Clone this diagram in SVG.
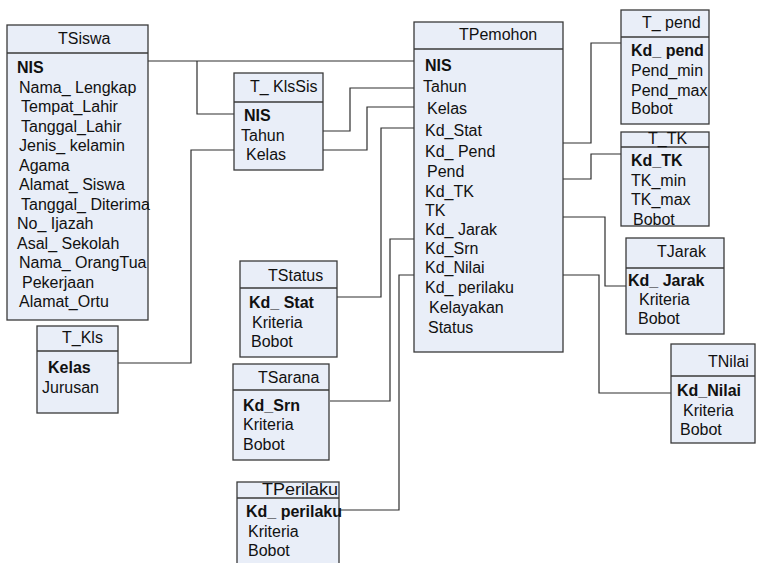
<svg xmlns="http://www.w3.org/2000/svg" width="758" height="563" viewBox="0 0 758 563">
<style>
.box{fill:#e9eef8;stroke:#3a3a3a;stroke-width:1.3}
.sep{stroke:#3a3a3a;stroke-width:1.3}
.t{font-family:"Liberation Sans",Arial,sans-serif;font-size:16px;fill:#111}
.b{font-weight:bold}
.c{fill:none;stroke:#2e2e2e;stroke-width:1.2}
</style>
<rect width="758" height="563" fill="#ffffff"/>
<g id="connectors">
<path class="c" d="M148,61 H414"/>
<path class="c" d="M197,61 V114 H234"/>
<path class="c" d="M323,131 H350 V88 H414"/>
<path class="c" d="M323,150 H367 V107 H414"/>
<path class="c" d="M414,128 H381 V297 H337"/>
<path class="c" d="M118,363 H191 V150 H234"/>
<path class="c" d="M414,239 H390 V401 H330"/>
<path class="c" d="M414,275 H399 V510 H339"/>
<path class="c" d="M563,143 H591 V43 H621"/>
<path class="c" d="M563,179 H591 V154 H621"/>
<path class="c" d="M563,217 H605 V286 H626"/>
<path class="c" d="M563,275 H599 V393 H671"/>
</g>
<g id="TSiswa">
<rect class="box" x="7" y="25" width="141" height="295"/>
<line class="sep" x1="7" y1="53" x2="148" y2="53"/>
<text class="t" x="58" y="44">TSiswa</text>
<text class="t b" x="17" y="73">NIS</text>
<text class="t" x="19" y="92.5">Nama_ Lengkap</text>
<text class="t" x="21" y="112">Tempat_Lahir</text>
<text class="t" x="21" y="131.5">Tanggal_Lahir</text>
<text class="t" x="19" y="151">Jenis_ kelamin</text>
<text class="t" x="19" y="170.5">Agama</text>
<text class="t" x="19" y="190">Alamat_ Siswa</text>
<text class="t" x="21" y="209.5">Tanggal_ Diterima</text>
<text class="t" x="17" y="229">No_ Ijazah</text>
<text class="t" x="17" y="248.5">Asal_ Sekolah</text>
<text class="t" x="19" y="268">Nama_ OrangTua</text>
<text class="t" x="22" y="287.5">Pekerjaan</text>
<text class="t" x="19" y="307">Alamat_Ortu</text>
</g>
<g id="T_KlsSis">
<rect class="box" x="234" y="73" width="89" height="97"/>
<line class="sep" x1="234" y1="102" x2="323" y2="102"/>
<text class="t" x="250" y="92">T_ KlsSis</text>
<text class="t b" x="244" y="121">NIS</text>
<text class="t" x="241" y="141">Tahun</text>
<text class="t" x="246" y="160">Kelas</text>
</g>
<g id="TPemohon">
<rect class="box" x="414" y="22" width="149" height="330"/>
<line class="sep" x1="414" y1="49" x2="563" y2="49"/>
<text class="t" x="459" y="40">TPemohon</text>
<text class="t b" x="425" y="71">NIS</text>
<text class="t" x="423" y="91.5">Tahun</text>
<text class="t" x="427" y="114">Kelas</text>
<text class="t" x="425" y="136">Kd_Stat</text>
<text class="t" x="425" y="156.5">Kd_ Pend</text>
<text class="t" x="427" y="176.5">Pend</text>
<text class="t" x="425" y="196.5">Kd_TK</text>
<text class="t" x="425" y="215.5">TK</text>
<text class="t" x="425" y="235">Kd_ Jarak</text>
<text class="t" x="425" y="254">Kd_Srn</text>
<text class="t" x="425" y="273">Kd_Nilai</text>
<text class="t" x="425" y="293">Kd_ perilaku</text>
<text class="t" x="429" y="313">Kelayakan</text>
<text class="t" x="428" y="333">Status</text>
</g>
<g id="T_pend">
<rect class="box" x="621" y="10" width="88" height="114"/>
<line class="sep" x1="621" y1="37" x2="709" y2="37"/>
<text class="t" x="642" y="28">T_ pend</text>
<text class="t b" x="631" y="56">Kd_ pend</text>
<text class="t" x="631" y="76">Pend_min</text>
<text class="t" x="631" y="95.5">Pend_max</text>
<text class="t" x="631" y="114">Bobot</text>
</g>
<g id="T_TK">
<rect class="box" x="621" y="132" width="88" height="94"/>
<line class="sep" x1="621" y1="147" x2="709" y2="147"/>
<text class="t" x="648" y="144">T_TK</text>
<text class="t b" x="631" y="166">Kd_TK</text>
<text class="t" x="631" y="185.5">TK_min</text>
<text class="t" x="631" y="205">TK_max</text>
<text class="t" x="633" y="224.5">Bobot</text>
</g>
<g id="TJarak">
<rect class="box" x="626" y="238" width="98" height="96"/>
<line class="sep" x1="626" y1="268" x2="724" y2="268"/>
<text class="t" x="657" y="257">TJarak</text>
<text class="t b" x="628" y="286">Kd_ Jarak</text>
<text class="t" x="639" y="305">Kriteria</text>
<text class="t" x="638" y="324">Bobot</text>
</g>
<g id="TNilai">
<rect class="box" x="671" y="344" width="84" height="99"/>
<line class="sep" x1="671" y1="376" x2="755" y2="376"/>
<text class="t" x="708" y="367">TNilai</text>
<text class="t b" x="677" y="396">Kd_Nilai</text>
<text class="t" x="683" y="416">Kriteria</text>
<text class="t" x="680" y="435">Bobot</text>
</g>
<g id="T_Kls">
<rect class="box" x="37" y="326" width="81" height="87"/>
<line class="sep" x1="37" y1="351" x2="118" y2="351"/>
<text class="t" x="62" y="343">T_Kls</text>
<text class="t b" x="48" y="373">Kelas</text>
<text class="t" x="42" y="393">Jurusan</text>
</g>
<g id="TStatus">
<rect class="box" x="240" y="261" width="97" height="96"/>
<line class="sep" x1="240" y1="288" x2="337" y2="288"/>
<text class="t" x="268" y="281">TStatus</text>
<text class="t b" x="249" y="308">Kd_ Stat</text>
<text class="t" x="252" y="328">Kriteria</text>
<text class="t" x="251" y="347">Bobot</text>
</g>
<g id="TSarana">
<rect class="box" x="233" y="364" width="96" height="96"/>
<line class="sep" x1="233" y1="390" x2="329" y2="390"/>
<text class="t" x="258" y="383">TSarana</text>
<text class="t b" x="243" y="411">Kd_Srn</text>
<text class="t" x="243" y="430">Kriteria</text>
<text class="t" x="243" y="450">Bobot</text>
</g>
<g id="TPerilaku">
<rect class="box" x="237" y="482" width="102" height="90"/>
<line class="sep" x1="237" y1="498" x2="339" y2="498"/>
<text class="t" x="262" y="495" textLength="76" lengthAdjust="spacingAndGlyphs">TPerilaku</text>
<text class="t b" x="246" y="517">Kd_ perilaku</text>
<text class="t" x="248" y="537">Kriteria</text>
<text class="t" x="248" y="556">Bobot</text>
</g>
</svg>
